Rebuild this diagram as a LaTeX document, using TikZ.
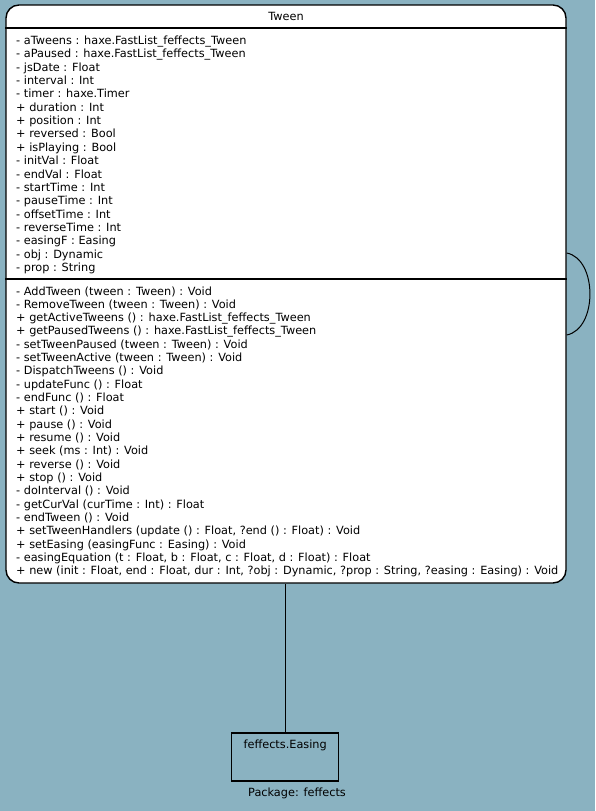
\documentclass[tikz,border=0pt]{standalone}
\usepackage{fontspec}
\setmainfont{DejaVu Sans}
\definecolor{bg}{RGB}{138,178,193}
\begin{document}
\begin{tikzpicture}[x=1pt,y=1pt,
  cls/.style={draw, line width=1.4pt, fill=white, rounded corners=13pt, minimum width=560pt, minimum height=578pt, inner sep=0pt},
  pkg/.style={draw, line width=1.4pt, minimum width=107pt, minimum height=48pt, inner sep=0pt},
  sep/.style={line width=1.4pt},
  conn/.style={line width=1pt},
  txt/.style={font=\fontsize{11.3}{13}\selectfont, inner sep=0pt, anchor=base west},
  ctxt/.style={font=\fontsize{11.3}{13}\selectfont, inner sep=0pt, anchor=base}]
\fill[bg] (0,0) rectangle (595,-811);
\useasboundingbox (0,0) rectangle (595,-811);
\node[cls] (tween) at (286,-294) {};
\node[ctxt] (title) at (286,-20) {Tween};
\coordinate (s1) at (0,-28);
\coordinate (s2) at (0,-279);
\draw[sep] (tween.west |- s1) -- (tween.east |- s1);
\draw[sep] (tween.west |- s2) -- (tween.east |- s2);
\foreach \t [count=\i] in {
{- aTweens : haxe.FastList\_feffects\_Tween},
{- aPaused : haxe.FastList\_feffects\_Tween},
{- jsDate : Float},
{- interval : Int},
{- timer : haxe.Timer},
{+ duration : Int},
{+ position : Int},
{+ reversed : Bool},
{+ isPlaying : Bool},
{- initVal : Float},
{- endVal : Float},
{- startTime : Int},
{- pauseTime : Int},
{- offsetTime : Int},
{- reverseTime : Int},
{- easingF : Easing},
{- obj : Dynamic},
{- prop : String}}
  \node[txt] (a\i) at (16,{-44.5-13.35*(\i-1)}) {\t};
\foreach \t [count=\i] in {
{- AddTween (tween : Tween) : Void},
{- RemoveTween (tween : Tween) : Void},
{+ getActiveTweens () : haxe.FastList\_feffects\_Tween},
{+ getPausedTweens () : haxe.FastList\_feffects\_Tween},
{- setTweenPaused (tween : Tween) : Void},
{- setTweenActive (tween : Tween) : Void},
{- DispatchTweens () : Void},
{- updateFunc () : Float},
{- endFunc () : Float},
{+ start () : Void},
{+ pause () : Void},
{+ resume () : Void},
{+ seek (ms : Int) : Void},
{+ reverse () : Void},
{+ stop () : Void},
{- doInterval () : Void},
{- getCurVal (curTime : Int) : Float},
{- endTween () : Void},
{+ setTweenHandlers (update () : Float, ?end () : Float) : Void},
{+ setEasing (easingFunc : Easing) : Void},
{- easingEquation (t : Float, b : Float, c : Float, d : Float) : Float},
{+ new (init : Float, end : Float, dur : Int, ?obj : Dynamic, ?prop : String, ?easing : Easing) : Void}}
  \node[txt] (m\i) at (16,{-295-13.33*(\i-1)}) {\t};
\node[pkg] (easing) at (285.2,-757) {};
\node[ctxt] (easingname) at (285.2,-748) {feffects.Easing};
\node[ctxt] (pkgname) at (297,-796) {Package: feffects};
\draw[conn] (easing.north) -- (easing.north |- tween.south);
\draw[conn] ([yshift=41pt]tween.east) .. controls ++(31,-6) and ++(31,6) .. ([yshift=-41pt]tween.east);
\end{tikzpicture}
\end{document}
